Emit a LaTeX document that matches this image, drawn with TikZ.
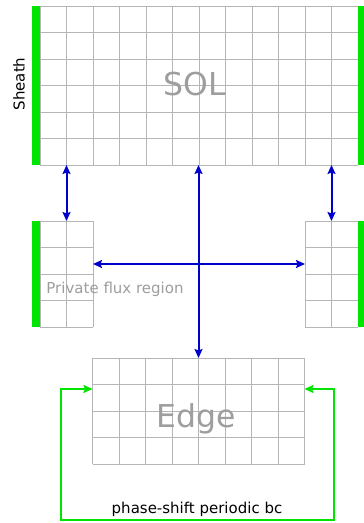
\documentclass[tikz,border=0pt]{standalone}
\usepackage{fontspec}
\setmainfont{DejaVu Sans}
\usetikzlibrary{arrows.meta}
\definecolor{gridc}{RGB}{182,182,182}
\definecolor{lblc}{RGB}{158,158,158}
\definecolor{arrblue}{RGB}{0,0,205}
\definecolor{bargreen}{RGB}{0,228,0}
\newcommand\cellgrid[3]{%
  \begin{scope}[shift={(#1.north west)}]
    \foreach \i in {0,...,#2} \draw[gridline] (\i*26.5,0) -- (\i*26.5,#3*26.5);
    \foreach \j in {0,...,#3} \draw[gridline] (0,\j*26.5) -- (#2*26.5,\j*26.5);
  \end{scope}}
\begin{document}
\begin{tikzpicture}[x=1pt,y=-1pt,
  region/.style={draw=none,fill=none,inner sep=0pt,outer sep=0pt},
  gridline/.style={draw=gridc,line width=1pt},
  bar/.style={fill=bargreen},
  blue arrow/.style={draw=arrblue,line width=2pt,{Stealth[length=9pt,width=8pt,inset=1.5pt]}-{Stealth[length=9pt,width=8pt,inset=1.5pt]}},
  green arrow/.style={draw=bargreen,line width=2pt,{Stealth[length=9pt,width=8pt,inset=1.5pt]}-{Stealth[length=9pt,width=8pt,inset=1.5pt]}},
  biglabel/.style={text=lblc,font=\fontsize{31.5}{36}\selectfont,anchor=base,inner sep=0pt},
  smalllabel/.style={font=\fontsize{15}{18}\selectfont,anchor=base,inner sep=0pt}]
\useasboundingbox (0,0) rectangle (364,523);
\fill[white] (0,0) rectangle (364,523);
% regions
\node[region,minimum width=318pt,minimum height=159pt] (SOL) at (199,85.5) {};
\node[region,minimum width=53pt,minimum height=106pt] (PFL) at (66.5,274) {};
\node[region,minimum width=53pt,minimum height=106pt] (PFR) at (331.5,274) {};
\node[region,minimum width=212pt,minimum height=106pt] (EDGE) at (198.5,411) {};
% grids
\cellgrid{SOL}{12}{6}
\cellgrid{PFL}{2}{4}
\cellgrid{PFR}{2}{4}
\cellgrid{EDGE}{8}{4}
% sheath bars
\fill[bar] (SOL.north west) rectangle ++(-8,159);
\fill[bar] (SOL.north east) rectangle ++(8,159);
\fill[bar] (PFL.north west) rectangle ++(-8,106);
\fill[bar] (PFR.north east) rectangle ++(8,106);
% labels
\node[biglabel] (SOLt) at (195,95) {SOL};
\node[biglabel] (EDGEt) at (196.5,427) {Edge};
\node[smalllabel,text=lblc] (PFt) at (115,293) {Private flux region};
\node[smalllabel,rotate=90] (SHt) at (24.5,84) {Sheath};
\node[smalllabel] (BCt) at (197,513) {phase-shift periodic bc};
% blue connectors
\coordinate (h) at (198.5,264);
\draw[blue arrow] (EDGE.north |- SOL.south) -- (EDGE.north);
\draw[blue arrow] (PFL.east |- h) -- (PFR.west |- h);
\draw[blue arrow] (PFL.north |- SOL.south) -- (PFL.north);
\draw[blue arrow] (PFR.north |- SOL.south) -- (PFR.north);
% green periodic loop
\coordinate (ga) at (0,389);
\coordinate (gl) at (60.5,520);
\coordinate (gr) at (334,520);
\draw[green arrow] (EDGE.west |- ga) -- (gl |- ga) -- (gl) -- (gr) -- (gr |- ga) -- (EDGE.east |- ga);
\end{tikzpicture}
\end{document}
